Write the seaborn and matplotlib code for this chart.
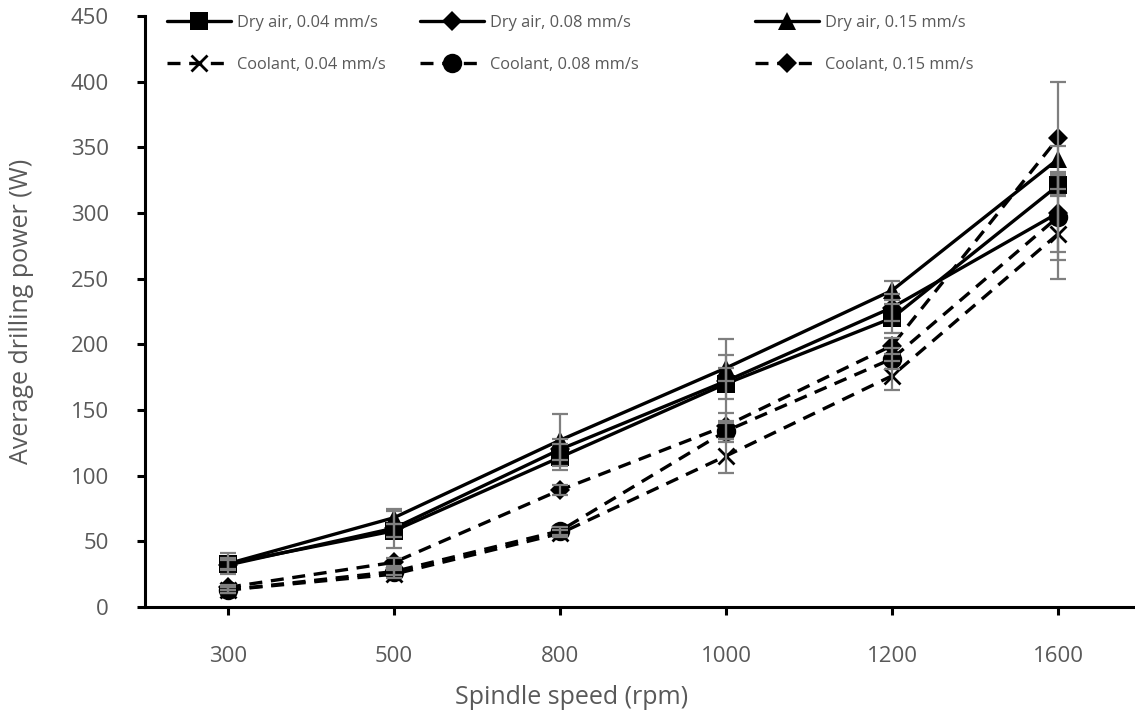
import matplotlib
matplotlib.use("Agg")
import matplotlib.pyplot as plt
import seaborn as sns
import pandas as pd

# spindle speed categories (rpm)
speeds = ["300", "500", "800", "1000", "1200", "1600"]

# average drilling power (W)
dry_004 = [33, 58, 114, 170, 220, 321]
dry_008 = [32, 60, 120, 172, 228, 300]
dry_015 = [33, 68, 127, 182, 241, 341]
cool_004 = [13, 25, 56, 115, 176, 284]
cool_008 = [13, 27, 58, 134, 189, 297]
cool_015 = [15, 34, 89, 138, 199, 357]

# error bar half-widths (W)
err_dry_004 = [4, 5, 10, 12, 11, 8]
err_dry_008 = [4, 15, 8, 32, 10, 30]
err_dry_015 = [8, 5, 20, 10, 7, 10]
err_cool_004 = [2, 3, 3, 13, 11, 34]
err_cool_008 = [2, 3, 3, 8, 8, 33]
err_cool_015 = [2, 3, 4, 10, 6, 43]

labels = ["Dry air, 0.04 mm/s", "Dry air, 0.08 mm/s", "Dry air, 0.15 mm/s",
          "Coolant, 0.04 mm/s", "Coolant, 0.08 mm/s", "Coolant, 0.15 mm/s"]
values = [dry_004, dry_008, dry_015, cool_004, cool_008, cool_015]
errors = [err_dry_004, err_dry_008, err_dry_015, err_cool_004, err_cool_008, err_cool_015]

markers = ["s", "D", "^", "x", "o", "D"]
msizes = [13, 10, 13, 12, 14, 10]
dashed = (0, (3.9, 2.6))
styles = ["-", "-", "-", dashed, dashed, dashed]

sns.set_theme(style="white")
plt.rcParams['font.family'] = ['Open Sans', 'DejaVu Sans']
grey = "#595959"

fig = plt.figure(figsize=(11.35, 7.13), dpi=100)
ax = fig.add_axes([145 / 1135, 1 - 607 / 713, 1 - 145 / 1135, (607 - 16) / 713])

handles = []
for lab, vals, mk, ms, ls in zip(labels, values, markers, msizes, styles):
    df = pd.DataFrame({"speed": speeds, "power": vals})
    sns.lineplot(data=df, x="speed", y="power", ax=ax, color="black", lw=2.4,
                 linestyle=ls, marker=mk, markersize=ms, markeredgewidth=2 if mk == "x" else 0,
                 markeredgecolor="black", sort=False, label=lab, zorder=3)
    handles.append(ax.lines[-1])

for vals, err in zip(values, errors):
    ax.errorbar(speeds, vals, yerr=err, fmt="none", ecolor="#7f7f7f", elinewidth=1.6,
                capsize=6, capthick=1.6, zorder=4)

ax.get_legend().remove()

ax.set_xlim(-0.5, -0.5 + (1135 - 145) / 166)
ax.set_ylim(0, 450)
ax.set_yticks(range(0, 451, 50))

for s in ["top", "right"]:
    ax.spines[s].set_visible(False)
for s in ["left", "bottom"]:
    ax.spines[s].set_color("black")
    ax.spines[s].set_linewidth(2.2)

ax.tick_params(axis="both", direction="out", length=6, width=2.2, color="black",
               labelcolor=grey, labelsize=16, bottom=True, left=True)
ax.tick_params(axis="y", pad=20)
ax.tick_params(axis="x", pad=22)

ax.set_xlabel("Spindle speed (rpm)", fontsize=18, color=grey)
ax.set_ylabel("Average drilling power (W)", fontsize=18, color=grey)
ax.xaxis.set_label_coords((572 - 145) / (1135 - 145), -0.132)
ax.yaxis.set_label_coords(-0.112, 0.5)

# three legend columns placed like the original
col_x = [167, 420, 755]
for i, x in enumerate(col_x):
    leg = fig.legend(handles=[handles[i], handles[i + 3]], labels=[labels[i], labels[i + 3]],
                     loc="upper left", bbox_to_anchor=(x / 1135, 1 - 15 / 713),
                     frameon=False, fontsize=11.8, handlelength=3.9, handletextpad=0.4,
                     labelspacing=1.6, borderpad=0, borderaxespad=0, labelcolor=grey)

fig.savefig("out.png", dpi=100)
